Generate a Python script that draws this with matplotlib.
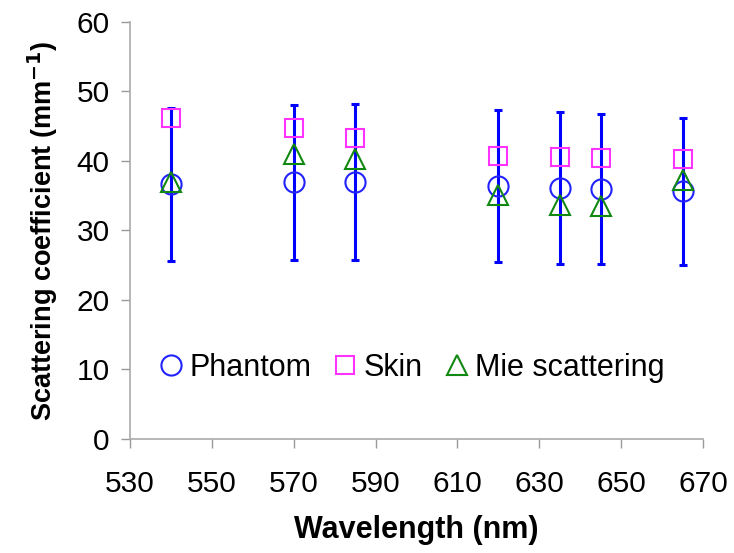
import numpy as np
import matplotlib
matplotlib.use('Agg')
import matplotlib.pyplot as plt

plt.rcParams['font.family'] = ['Liberation Sans', 'DejaVu Sans']

# data
wavelength = [540, 570, 585, 620, 635, 645, 665]
phantom = [36.6, 36.9, 36.9, 36.4, 36.1, 35.9, 35.6]
phantom_err = [11.0, 11.1, 11.2, 10.9, 10.9, 10.8, 10.6]
skin = [46.2, 44.7, 43.2, 40.7, 40.6, 40.4, 40.3]
mie = [36.9, 40.9, 40.3, 35.1, 33.7, 33.5, 37.3]

xticks = [530, 550, 570, 590, 610, 630, 650, 670]
yticks = [0, 10, 20, 30, 40, 50, 60]

fig = plt.figure(figsize=(7.34, 5.53), dpi=100)
ax = fig.add_axes([0.177, 0.206, 0.781, 0.755])

ax.errorbar(wavelength, phantom, yerr=phantom_err, fmt='none', ecolor='#0000ff',
            elinewidth=2.2, capsize=3, capthick=2.2, zorder=2)
ax.plot(wavelength, phantom, 'o', ms=14.5, mfc='none', mec='#2222ff', mew=1.5,
        label='Phantom', zorder=3)
ax.plot(wavelength, skin, 's', ms=13, mfc='none', mec='#ff33ff', mew=1.5,
        label='Skin', zorder=3)
ax.plot(wavelength, mie, '^', ms=14, mfc='none', mec='#118811', mew=1.5,
        label='Mie scattering', zorder=4)

ax.set_xlim(530, 670)
ax.set_ylim(0, 60)
ax.set_xticks(xticks)
ax.set_yticks(yticks)
ax.tick_params(labelsize=21.5, color='#999999', length=6.5, width=1)
ax.tick_params(axis='x', pad=16)
ax.tick_params(axis='y', pad=8)

for s in ['top', 'right']:
    ax.spines[s].set_visible(False)
for s in ['left', 'bottom']:
    ax.spines[s].set_color('#aaaaaa')
    ax.spines[s].set_linewidth(1.2)

ax.set_xlabel('Wavelength (nm)', fontsize=22, fontweight='bold', labelpad=12)
ax.set_ylabel('Scattering coefficient (mm$^{\\mathbf{-1}}$)', fontsize=19.5,
              fontweight='bold', labelpad=12)

ax.legend(loc='center left', bbox_to_anchor=(0.05, 0.17), ncol=3, frameon=False,
          fontsize=22, handlelength=0.8, handletextpad=0.2, columnspacing=0.72,
          borderaxespad=0, borderpad=0)

fig.savefig('out.png', dpi=100)
